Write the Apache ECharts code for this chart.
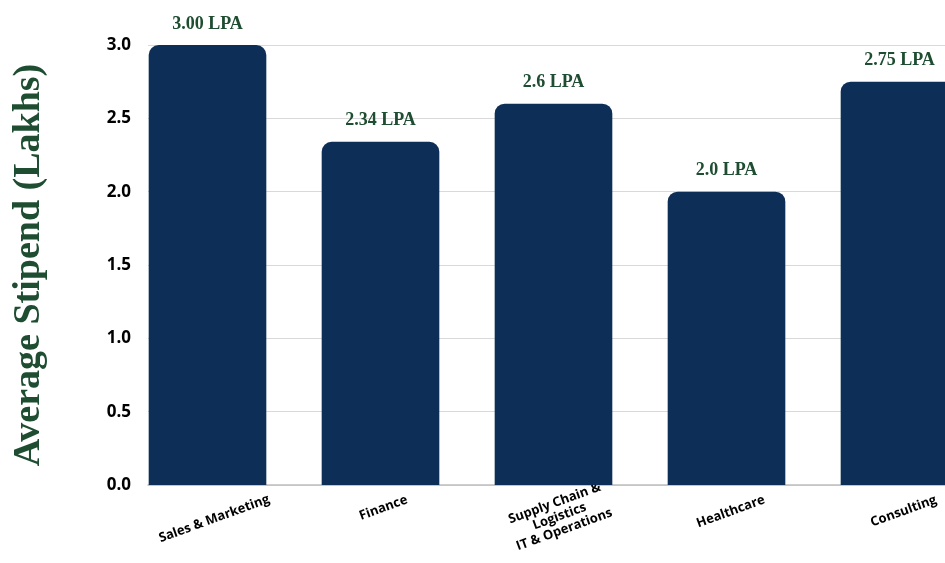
<!DOCTYPE html>
<html>
<head>
<meta charset="utf-8">
<script src="https://cdn.jsdelivr.net/npm/echarts@6/dist/echarts.min.js"></script>
<style>html,body{margin:0;padding:0;background:#fff}#c{width:945px;height:563px}</style>
</head>
<body>
<div id="c"></div>
<script>
const categories = ['Sales & Marketing', 'Finance', 'Supply Chain &\nLogistics\nIT & Operations', 'Healthcare', 'Consulting'];
const stipends = [3.00, 2.34, 2.6, 2.0, 2.75];
const valueLabels = ['3.00 LPA', '2.34 LPA', '2.6 LPA', '2.0 LPA', '2.75 LPA'];
const yTicks = { min: 0, max: 3, interval: 0.5 };

// Excel-style rotated labels: longer labels sit lower so their tops line up.
const labelFontSize = 13;
const labelLineHeight = 14;
const labelRotate = 20;
const ctx = document.createElement('canvas').getContext('2d');
ctx.font = 'bold ' + labelFontSize + 'px "Open Sans"';
const rad = labelRotate * Math.PI / 180;
const rich = {
  t: { fontFamily: 'Open Sans', fontWeight: 'bold', fontSize: labelFontSize, color: '#000', lineHeight: labelLineHeight, align: 'center' }
};
categories.forEach((c, i) => {
  const lines = c.split('\n');
  const w = Math.max(...lines.map(l => ctx.measureText(l).width));
  const d = (w / 2) * Math.sin(rad);
  const ph = Math.max(1, Math.round(2 * d));
  rich['p' + i] = { fontSize: 1, height: ph, lineHeight: ph, align: 'center' };
});

const chart = echarts.init(document.getElementById('c'));
chart.setOption({
  animation: false,
  grid: [
    { left: 148, width: 838, top: 45, bottom: 78, outerBoundsMode: 'none', containLabel: false },
    { left: 121, width: 865, top: 45, bottom: 78, outerBoundsMode: 'none', containLabel: false }
  ],
  xAxis: [
    { gridIndex: 0, type: 'value', min: 0, max: 1, axisLabel: { show: false }, axisTick: { show: false }, splitLine: { show: false },
      axisLine: { show: true, lineStyle: { color: '#bfbfbf', width: 1.5 } } },
    { gridIndex: 1, type: 'category', data: categories, axisLine: { show: false }, axisTick: { show: false },
      axisLabel: { interval: 0, rotate: labelRotate, align: 'center', verticalAlign: 'middle', margin: 15,
        fontFamily: 'Open Sans', fontWeight: 'bold', fontSize: labelFontSize, color: '#000', lineHeight: labelLineHeight,
        formatter: (value, idx) => '{p' + idx + '|\u00a0}\n' + value.split('\n').map(l => '{t|' + l + '}').join('\n'),
        rich: rich } }
  ],
  yAxis: [
    { gridIndex: 0, type: 'value', min: yTicks.min, max: yTicks.max, interval: yTicks.interval,
      axisLine: { show: false }, axisTick: { show: false },
      axisLabel: { margin: 17, fontFamily: 'Open Sans', fontWeight: 'bold', fontSize: 17, color: '#000',
        formatter: v => v.toFixed(1) },
      splitLine: { lineStyle: { color: '#d9d9d9', width: 1 } },
      name: 'Average Stipend (Lakhs)', nameLocation: 'middle', nameGap: 100,
      nameTextStyle: { fontFamily: 'Liberation Serif', fontWeight: 'bold', fontSize: 38, color: '#1e4d31' } },
    { gridIndex: 1, type: 'value', min: yTicks.min, max: yTicks.max, interval: yTicks.interval, show: false, splitLine: { show: false } }
  ],
  series: [{
    type: 'bar', xAxisIndex: 1, yAxisIndex: 1, data: stipends, barWidth: '68%',
    itemStyle: { color: '#0d2f57', borderRadius: [10, 10, 0, 0] },
    label: { show: true, position: 'top', distance: 12, formatter: p => valueLabels[p.dataIndex],
      fontFamily: 'Liberation Serif', fontWeight: 'bold', fontSize: 18, color: '#1e4d31' }
  }]
});
</script>
</body>
</html>
